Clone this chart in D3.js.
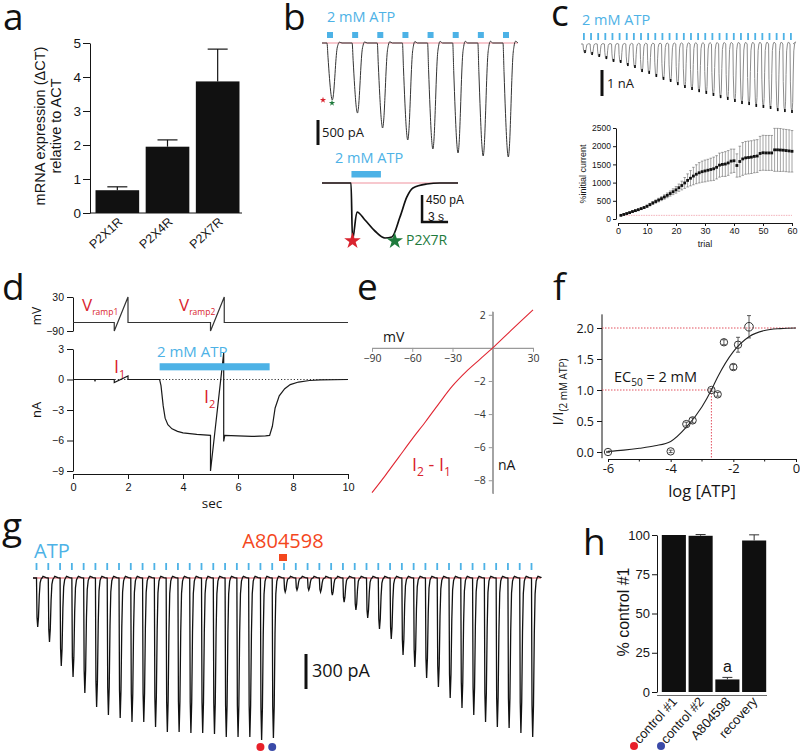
<!DOCTYPE html>
<html><head><meta charset="utf-8">
<script src="https://cdn.jsdelivr.net/npm/d3@7/dist/d3.min.js"></script>
<style>html,body{margin:0;padding:0;background:#fff}svg{display:block}</style>
</head><body>
<svg id="fig" width="800" height="751" xmlns="http://www.w3.org/2000/svg"></svg>
<script>
// ================= DATA =================
// a
const aLabels = ["P2X1R", "P2X4R", "P2X7R"];
const aValues = [0.67, 1.95, 3.87];
const aErrors = [0.10, 0.20, 0.95];
const aTicks = [0, 1, 2, 3, 4, 5];
// b (top train, peak currents in pA)
const bTrainPeaks = [1140, 1400, 1700, 1940, 2120, 2200, 2260, 2280];
// b (single response, seconds / pA)
const bSingleTime = [0, 3.35, 3.52, 4.04, 4.96, 6.11, 7.27, 8.07, 9.0, 9.8, 10.5, 12.1, 13.6, 15.7];
const bSingleCurrent = [0, 0, -950, -483, -617, -800, -917, -900, -567, -233, -83, -17, 0, 0];
// c (trace peak currents in nA, 30 applications)
const cTraceDepths = [0.35,0.42,0.5,0.58,0.69,0.73,0.85,0.92,1.08,1.15,1.27,1.38,1.46,1.58,1.69,1.77,1.85,1.92,2.0,2.08,2.15,2.23,2.31,2.35,2.42,2.46,2.5,2.58,2.62,2.65];
// c (summary, trials 1..60)
const cTrial = d3.range(1, 61);
const cMean = [100,125,150,175,205,230,255,285,315,350, 395,440,480,520,560,605,650,700,750,800,
  860,920,990,1060,1120,1180,1230,1270,1300,1320, 1340,1360,1380,1420,1480,1500,1510,1540,1590,1600,
  1470,1580,1650,1680,1690,1700,1720,1730,1800,1820, 1815,1815,1815,1900,1900,1895,1890,1880,1870,1860];
const cSem = [5,8,10,12,15,18,20,22,25,30, 35,40,45,50,55,60,65,70,80,90,
  100,120,150,180,210,240,260,280,290,300, 300,310,320,320,330,330,340,340,330,320,
  320,420,450,450,450,450,450,450,470,480, 480,480,480,590,590,590,580,580,580,570];
const cXTicks = [0, 10, 20, 30, 40, 50, 60];
const cYTicks = [0, 500, 1000, 1500, 2000, 2500];
// d
const dVoltTime = [0, 1.5, 1.5, 2.0, 2.0, 5.0, 5.0, 5.5, 5.5, 10];
const dVoltValue = [-60, -60, -90, 30, -60, -60, -90, 30, -60, -60];
const dCurTime = [0,0.78,0.8,0.82,1.5,1.5,2.0,2.0,3.15,3.2,3.28,3.35,3.45,3.6,3.8,4.0,4.5,5.0,5.0,5.48,5.48,5.52,6.0,6.5,7.0,7.15,7.25,7.35,7.5,7.7,7.9,8.2,8.6,9.0,10];
const dCurValue = [0,0,-0.12,0,0,-0.3,0.35,0,0,-0.6,-2.6,-3.8,-4.45,-4.85,-5.1,-5.25,-5.4,-5.5,-9.0,2.6,-6.1,-5.5,-5.55,-5.6,-5.55,-5.5,-4.6,-2.8,-1.6,-0.9,-0.5,-0.25,-0.1,-0.03,0];
const dATP = [3.15, 7.15];
const dTimeTicks = [0, 2, 4, 6, 8, 10];
const dNATicks = [3, 0, -3, -6, -9];
const dMVTicks = [30, -90];
// e
const eVolt = [-90,-80,-70,-60,-50,-40,-30,-20,-10,0,10,20,30];
const eCurr = [-8.75,-7.7,-6.6,-5.5,-4.45,-3.35,-2.3,-1.45,-0.72,0,0.77,1.54,2.3];
const eXTicks = [-90, -60, -30, 30];
const eYTicks = [2, -2, -4, -6, -8];
// f
const fLogATP = [-6, -4, -3.5, -3.3, -2.7, -2.5, -2.3, -2.0, -1.85, -1.5];
const fResp = [0.0, 0.01, 0.45, 0.51, 1.0, 0.93, 1.77, 1.37, 1.73, 2.02];
const fErr = [0.01, 0.02, 0.03, 0.04, 0.02, 0.03, 0.04, 0.04, 0.12, 0.18];
const fFitLog = [-6,-5.5,-5,-4.5,-4,-3.5,-3,-2.7,-2.5,-2,-1.5,-1,-0.5,0];
const fFitResp = [0.01,0.03,0.06,0.1,0.17,0.4,0.73,1.0,1.21,1.62,1.86,1.96,1.99,2.0];
const fXTicks = [-6, -4, -2, 0];
const fXMinor = [-5, -3, -1];
const fYTicks = [0, 0.5, 1.0, 1.5, 2.0];
// g (peak currents in pA, 43 ATP applications)
const gPeaks = [420,548,754,848,985,1105,1174,1200,1234,1234,1277,1320,1320,1328,1328,1337,1362,1362,1362,1388,1371,
  120,103,103,120,146,206,274,343,437,523,660,763,857,934,1028,1114,1174,1234,1277,1285,1328,1362];
const gControl1 = 19, gControl2 = 20, gDrugIndex = 21;
// h
const hLabels = ["control #1", "control #2", "A804598", "recovery"];
const hValues = [100, 99.5, 8, 96.5];
const hErrors = [0, 0.8, 1.3, 3.6];
const hTicks = [0, 25, 50, 75, 100];

// ================= STYLE =================
const BLUE = "#4db2e6", RED = "#d9232e", GREEN = "#1e7a3c", ORANGE = "#f4471d", PINK = "#f4b6be", INK = "#151515";
const SANS = "'Open Sans', 'DejaVu Sans', sans-serif";
const ARIAL = "'Liberation Sans', Arial, sans-serif";

const svg = d3.select("#fig");
svg.append("rect").attr("width", 800).attr("height", 751).attr("fill", "#fff");

function axisStyle(sel, font, size, color) {
  color = color || INK;
  sel.attr("font-family", font).attr("font-size", size);
  sel.selectAll("text").attr("fill", color === "#9a9a9a" ? "#333" : color);
  sel.selectAll("line").attr("stroke", color);
  sel.select(".domain").attr("stroke", color);
}
function txt(g, x, y, s, size, fill, font, anchor) {
  return g.append("text").attr("x", x).attr("y", y).text(s)
    .attr("font-size", size).attr("fill", fill || INK)
    .attr("font-family", font || SANS).attr("text-anchor", anchor || "start");
}
function letter(s, x, y) { txt(svg, x, y, s, 37, "#111", SANS); }

letter("a", 3, 30); letter("b", 283, 30); letter("c", 551, 26);
letter("d", 2, 300); letter("e", 357, 300); letter("f", 553, 300);
letter("g", 2, 539); letter("h", 583, 555);

// ================= PANEL A =================
{
  const g = svg.append("g");
  const y = d3.scaleLinear().domain([0, 5]).range([213, 43]);
  const x = d3.scaleBand().domain(aLabels).range([93, 242]).paddingInner(0.13).paddingOuter(0.05);
  g.append("g").attr("transform", "translate(90,0)")
    .call(d3.axisLeft(y).tickValues(aTicks).tickSize(7).tickSizeOuter(0).tickPadding(2).tickFormat(d3.format("d")))
    .call(axisStyle, ARIAL, 13.5);
  g.append("line").attr("x1", 90).attr("x2", x.range()[1]).attr("y1", y(0)).attr("y2", y(0)).attr("stroke", INK);
  g.selectAll("rect.bar").data(aLabels).join("rect").attr("class", "bar")
    .attr("x", d => x(d)).attr("width", x.bandwidth())
    .attr("y", (d, i) => y(aValues[i])).attr("height", (d, i) => y(0) - y(aValues[i])).attr("fill", "#111");
  aLabels.forEach((d, i) => {
    const cx = x(d) + x.bandwidth() / 2, top = y(aValues[i] + aErrors[i]);
    g.append("line").attr("x1", cx).attr("x2", cx).attr("y1", y(aValues[i])).attr("y2", top).attr("stroke", INK).attr("stroke-width", 1.2);
    g.append("line").attr("x1", cx - 10).attr("x2", cx + 10).attr("y1", top).attr("y2", top).attr("stroke", INK).attr("stroke-width", 1.2);
    g.append("text").attr("transform", `translate(${cx + 6},${y(0) + 10}) rotate(-42)`)
      .attr("text-anchor", "end").attr("font-family", ARIAL).attr("font-size", 12.5).attr("fill", INK).text(d);
  });
  g.append("text").attr("transform", "translate(45,126) rotate(-90)").attr("text-anchor", "middle")
    .attr("font-family", ARIAL).attr("font-size", 14.5).attr("fill", INK).text("mRNA expression (\u0394CT)");
  g.append("text").attr("transform", "translate(61,126) rotate(-90)").attr("text-anchor", "middle")
    .attr("font-family", ARIAL).attr("font-size", 14.5).attr("fill", INK).text("relative to ACT");
}

// ================= PANEL B =================
{
  const g = svg.append("g");
  // top train
  const tx = d3.scaleLinear().domain([0, 7]).range([327, 503]);
  const ty = d3.scaleLinear().domain([0, -500]).range([43, 68]);
  txt(g, 327, 22, "2 mM ATP", 14.5, BLUE);
  g.selectAll("rect.pulse").data(bTrainPeaks).join("rect").attr("class", "pulse")
    .attr("x", (d, i) => tx(i)).attr("y", 32).attr("width", 6).attr("height", 6).attr("fill", BLUE);
  g.append("line").attr("x1", 322).attr("x2", 518).attr("y1", ty(0)).attr("y2", ty(0)).attr("stroke", PINK).attr("stroke-width", 1.5);
  const shape = [[0,0],[1,0.25],[2.5,0.62],[4,0.9],[5.3,1],[6.6,0.88],[7.8,0.6],[8.8,0.33],[9.8,0.13],[11,0.03],[12.5,-0.015],[15,0]];
  const pts = [[322, ty(0)]];
  bTrainPeaks.forEach((p, i) => shape.forEach(([dx, f]) => pts.push([tx(i) + dx, ty(-p * f)])));
  pts.push([518, ty(0)]);
  g.append("path").attr("d", d3.line().curve(d3.curveMonotoneX)(pts)).attr("fill", "none").attr("stroke", "#333").attr("stroke-width", 1);
  g.append("path").attr("d", d3.symbol(d3.symbolStar, 12)()).attr("transform", `translate(323,${ty(-bTrainPeaks[0]) })`).attr("fill", RED);
  g.append("path").attr("d", d3.symbol(d3.symbolStar, 12)()).attr("transform", `translate(332,${ty(-bTrainPeaks[0]) + 3})`).attr("fill", GREEN);
  g.append("rect").attr("x", 316.5).attr("y", ty(0) + 77).attr("width", 3).attr("height", ty(-500) - ty(0)).attr("fill", "#111");
  txt(g, 322, 137, "500 pA", 13, INK);

  // single response
  const sx = d3.scaleLinear().domain([0, 15.7]).range([322, 458]);
  const sy = d3.scaleLinear().domain([0, -450]).range([183, 210]);
  txt(g, 335, 163, "2 mM ATP", 14.5, BLUE);
  g.append("rect").attr("x", sx(3.4)).attr("y", 171).attr("width", sx(6.8) - sx(3.4)).attr("height", 6.5).attr("fill", BLUE);
  g.append("line").attr("x1", sx(0)).attr("x2", sx(15.7)).attr("y1", sy(0)).attr("y2", sy(0)).attr("stroke", PINK).attr("stroke-width", 1.5);
  const sp = bSingleTime.map((t, i) => [sx(t), sy(bSingleCurrent[i])]);
  g.append("path").attr("d", d3.line().curve(d3.curveMonotoneX)(sp)).attr("fill", "none").attr("stroke", "#111").attr("stroke-width", 1.7);
  g.append("path").attr("d", d3.symbol(d3.symbolStar, 85)()).attr("transform", `translate(${sx(3.52)},${sy(-950) + 1})`).attr("fill", RED);
  g.append("path").attr("d", d3.symbol(d3.symbolStar, 85)()).attr("transform", `translate(${sx(8.4)},${sy(-950) + 1})`).attr("fill", GREEN);
  txt(g, 406, 245, "P2X7R", 14, GREEN);
  // L scale bar
  g.append("path").attr("d", `M${sx(11.55)},${sy(-200)}V${sy(-650)}H${sx(11.55) + 26}`)
    .attr("fill", "none").attr("stroke", "#111").attr("stroke-width", 2.5);
  txt(g, 426, 203.5, "450 pA", 12, INK, ARIAL);
  txt(g, 428, 220.5, "3 s", 12, INK, ARIAL);
}

// ================= PANEL C =================
{
  const g = svg.append("g");
  txt(g, 582, 25, "2 mM ATP", 14.5, BLUE);
  const tx = d3.scaleLinear().domain([0, 29]).range([583, 790]);
  const ty = d3.scaleLinear().domain([0, -1]).range([44, 70]);
  g.selectAll("rect.tick").data(cTraceDepths).join("rect").attr("class", "tick")
    .attr("x", (d, i) => tx(i)).attr("y", 33).attr("width", 1.8).attr("height", 7).attr("fill", BLUE);
  const shape = [[0,0],[0.4,0.55],[1.1,0.92],[2,1],[2.7,0.85],[3.2,0.45],[3.8,0.1],[4.6,0],[5.6,-0.03]];
  const pts = [[581, ty(0)]];
  cTraceDepths.forEach((p, i) => shape.forEach(([dx, f]) => pts.push([tx(i) + dx, ty(-p * f)])));
  pts.push([793, ty(0)]);
  g.append("path").attr("d", d3.line()(pts)).attr("fill", "none").attr("stroke", "#8c8c8c").attr("stroke-width", 1);
  g.selectAll("line.tip").data(cTraceDepths).join("line").attr("class", "tip")
    .attr("x1", (d, i) => tx(i) + 2).attr("x2", (d, i) => tx(i) + 2)
    .attr("y1", d => ty(-d) - 3).attr("y2", d => ty(-d)).attr("stroke", "#111").attr("stroke-width", 1.6);
  g.append("rect").attr("x", 600.5).attr("y", 70).attr("width", 3).attr("height", 26).attr("fill", "#111");
  txt(g, 607, 88, "1 nA", 13, INK);

  // summary
  const x = d3.scaleLinear().domain([0, 60]).range([618, 792]);
  const y = d3.scaleLinear().domain([0, 2500]).range([219, 128]);
  g.append("g").attr("transform", "translate(616,0)")
    .call(d3.axisLeft(y).tickValues(cYTicks).tickSize(3).tickSizeOuter(0).tickPadding(2).tickFormat(d3.format("d")))
    .call(axisStyle, ARIAL, 8.5);
  g.append("g").attr("transform", "translate(0,223)")
    .call(d3.axisBottom(x).tickValues(cXTicks).tickSize(3).tickSizeOuter(0).tickPadding(2).tickFormat(d3.format("d")))
    .call(axisStyle, ARIAL, 9);
  g.append("line").attr("x1", x(1)).attr("x2", x(60)).attr("y1", y(100)).attr("y2", y(100))
    .attr("stroke", "#f0a0aa").attr("stroke-width", 0.8).attr("stroke-dasharray", "1.5,1");
  cTrial.forEach((t, i) => {
    const cx = x(t), lo = y(cMean[i] - cSem[i]), hi = y(cMean[i] + cSem[i]);
    g.append("line").attr("x1", cx).attr("x2", cx).attr("y1", lo).attr("y2", hi).attr("stroke", "#666").attr("stroke-width", 0.6);
    g.append("line").attr("x1", cx - 1.3).attr("x2", cx + 1.3).attr("y1", lo).attr("y2", lo).attr("stroke", "#666").attr("stroke-width", 0.6);
    g.append("line").attr("x1", cx - 1.3).attr("x2", cx + 1.3).attr("y1", hi).attr("y2", hi).attr("stroke", "#666").attr("stroke-width", 0.6);
  });
  g.selectAll("rect.pt").data(cMean).join("rect").attr("class", "pt")
    .attr("x", (d, i) => x(cTrial[i]) - 1.4).attr("y", d => y(d) - 1.4).attr("width", 2.8).attr("height", 2.8).attr("fill", "#111");
  g.append("text").attr("transform", "translate(586,174) rotate(-90)").attr("text-anchor", "middle")
    .attr("font-family", ARIAL).attr("font-size", 9).attr("fill", INK).text("%initial current");
  txt(g, 705, 247, "trial", 9, INK, ARIAL, "middle");
}

// ================= PANEL D =================
{
  const g = svg.append("g");
  const x = d3.scaleLinear().domain([0, 10]).range([73, 348]);
  const mv = d3.scaleLinear().domain([-90, 30]).range([331, 297]);
  const na = d3.scaleLinear().domain([-9, 3]).range([471, 349]);
  g.append("g").attr("transform", "translate(73,0)")
    .call(d3.axisLeft(mv).tickValues(dMVTicks).tickSize(6).tickSizeOuter(0).tickPadding(3)).call(axisStyle, ARIAL, 10.5);
  g.append("g").attr("transform", "translate(73,0)")
    .call(d3.axisLeft(na).tickValues(dNATicks).tickSize(6).tickSizeOuter(0).tickPadding(3)).call(axisStyle, ARIAL, 10.5);
  g.append("g").attr("transform", "translate(0,474)")
    .call(d3.axisBottom(x).tickValues(dTimeTicks).tickSize(5).tickSizeOuter(0).tickPadding(4)).call(axisStyle, ARIAL, 11);
  txt(g, 212, 508, "sec", 13.5, INK, SANS, "middle");
  g.append("text").attr("transform", "translate(41,316) rotate(-90)").attr("text-anchor", "middle")
    .attr("font-family", SANS).attr("font-size", 12).attr("fill", INK).text("mV");
  g.append("text").attr("transform", "translate(41,410) rotate(-90)").attr("text-anchor", "middle")
    .attr("font-family", SANS).attr("font-size", 13).attr("fill", INK).text("nA");
  const vp = dVoltTime.map((t, i) => [x(t), mv(dVoltValue[i])]);
  g.append("path").attr("d", d3.line()(vp)).attr("fill", "none").attr("stroke", "#333").attr("stroke-width", 1.2);
  g.append("line").attr("x1", x(0)).attr("x2", x(10)).attr("y1", na(0)).attr("y2", na(0))
    .attr("stroke", "#333").attr("stroke-width", 1).attr("stroke-dasharray", "1.2,2");
  const cp = dCurTime.map((t, i) => [x(t), na(dCurValue[i])]);
  g.append("path").attr("d", d3.line()(cp)).attr("fill", "none").attr("stroke", "#1a1a1a").attr("stroke-width", 1.2);
  g.append("rect").attr("x", x(dATP[0])).attr("y", na(1.6)).attr("width", x(dATP[1]) - x(dATP[0])).attr("height", na(0.9) - na(1.6)).attr("fill", BLUE);
  txt(g, 157, 357, "2 mM ATP", 15, BLUE);
  const v1 = txt(g, 82, 311, "V", 17, RED); v1.append("tspan").attr("dy", 4).attr("font-size", 8.5).text("ramp1");
  const v2 = txt(g, 179, 311, "V", 17, RED); v2.append("tspan").attr("dy", 4).attr("font-size", 8.5).text("ramp2");
  const i1 = txt(g, 114, 373, "I", 18, RED); i1.append("tspan").attr("dy", 5).attr("font-size", 11).text("1");
  const i2 = txt(g, 204, 403, "I", 18, RED); i2.append("tspan").attr("dy", 5).attr("font-size", 11).text("2");
}

// ================= PANEL E =================
{
  const g = svg.append("g");
  const x = d3.scaleLinear().domain([-90, 30]).range([372, 533]);
  const y = d3.scaleLinear().domain([-8.8, 2.2]).range([493.5, 311.5]);
  const GR = "#9a9a9a";
  g.append("line").attr("x1", x(0)).attr("x2", x(0)).attr("y1", y(2.2)).attr("y2", y(-8.8)).attr("stroke", GR).attr("stroke-width", 1.2);
  g.append("g").attr("transform", `translate(0,${y(0)})`)
    .call(d3.axisBottom(x).tickValues(eXTicks).tickSize(4).tickSizeOuter(0).tickPadding(3))
    .call(axisStyle, SANS, 10.5, GR);
  g.append("g").attr("transform", `translate(${x(0)},0)`)
    .call(d3.axisLeft(y).tickValues(eYTicks).tickSize(4).tickSizeOuter(0).tickPadding(3))
    .call(axisStyle, SANS, 10.5, GR);
  g.selectAll(".domain").attr("stroke-width", 1.2);
  const lp = eVolt.map((v, i) => [x(v), y(eCurr[i])]);
  g.append("path").attr("d", d3.line().curve(d3.curveMonotoneX)(lp)).attr("fill", "none").attr("stroke", "#e02632").attr("stroke-width", 1.1);
  txt(g, 383, 342, "mV", 14, INK);
  txt(g, 498, 470, "nA", 14, INK);
  const t = txt(g, 412, 471, "I", 18, RED);
  t.append("tspan").attr("dy", 5).attr("font-size", 12).text("2");
  t.append("tspan").attr("dy", -5).text(" - I");
  t.append("tspan").attr("dy", 5).attr("font-size", 12).text("1");
}

// ================= PANEL F =================
{
  const g = svg.append("g");
  const x = d3.scaleLinear().domain([-6, 0]).range([608, 796]);
  const y = d3.scaleLinear().domain([0, 2]).range([452, 328]);
  const yAx = g.append("g").attr("transform", "translate(602,0)")
    .call(d3.axisLeft(y).tickValues(fYTicks).tickSize(5).tickSizeOuter(0).tickPadding(3).tickFormat(d3.format(".1f")))
    .call(axisStyle, SANS, 12.5);
  yAx.select(".domain").remove();
  g.append("line").attr("x1", 602).attr("x2", 602).attr("y1", y(2.22)).attr("y2", y(-0.1)).attr("stroke", INK);
  const xAx = g.append("g").attr("transform", "translate(0,459)")
    .call(d3.axisBottom(x).tickValues(fXTicks).tickSize(3).tickSizeOuter(0).tickPadding(2).tickFormat(d3.format("d")))
    .call(axisStyle, SANS, 13);
  xAx.selectAll("text").text(d => d < 0 ? "-" + Math.abs(d) : d);
  g.selectAll("line.minor").data(fXMinor).join("line").attr("class", "minor")
    .attr("x1", d => x(d)).attr("x2", d => x(d)).attr("y1", 459).attr("y2", 461.5).attr("stroke", INK);
  txt(g, 702, 497, "log [ATP]", 16.5, INK, SANS, "middle");
  const yl = g.append("text").attr("transform", "translate(563,392) rotate(-90)").attr("text-anchor", "middle")
    .attr("font-family", SANS).attr("font-size", 15).attr("fill", INK).text("I/I");
  yl.append("tspan").attr("dy", 4).attr("font-size", 10).text("(2 mM ATP)");
  const dot = "#e2505e";
  g.append("line").attr("x1", 602).attr("x2", 796).attr("y1", y(2)).attr("y2", y(2)).attr("stroke", dot).attr("stroke-dasharray", "1.5,1.5");
  g.append("line").attr("x1", 602).attr("x2", x(-2.7)).attr("y1", y(1)).attr("y2", y(1)).attr("stroke", dot).attr("stroke-dasharray", "1.5,1.5");
  g.append("line").attr("x1", x(-2.7)).attr("x2", x(-2.7)).attr("y1", y(1)).attr("y2", 459).attr("stroke", dot).attr("stroke-dasharray", "1.5,1.5");
  const fp = fFitLog.map((v, i) => [x(v), y(fFitResp[i])]);
  g.append("path").attr("d", d3.line().curve(d3.curveMonotoneX)(fp)).attr("fill", "none").attr("stroke", "#222").attr("stroke-width", 1.1);
  fLogATP.forEach((v, i) => {
    const cx = x(v), lo = y(fResp[i] - fErr[i]), hi = y(fResp[i] + fErr[i]);
    g.append("line").attr("x1", cx).attr("x2", cx).attr("y1", lo).attr("y2", hi).attr("stroke", "#333").attr("stroke-width", 0.8);
    g.append("line").attr("x1", cx - 2).attr("x2", cx + 2).attr("y1", lo).attr("y2", lo).attr("stroke", "#333").attr("stroke-width", 0.8);
    g.append("line").attr("x1", cx - 2).attr("x2", cx + 2).attr("y1", hi).attr("y2", hi).attr("stroke", "#333").attr("stroke-width", 0.8);
  });
  g.selectAll("circle.pt").data(fResp).join("circle").attr("class", "pt")
    .attr("cx", (d, i) => x(fLogATP[i])).attr("cy", d => y(d)).attr("r", (d, i) => i === 9 ? 4.3 : 3.7)
    .attr("fill", "none").attr("stroke", "#333").attr("stroke-width", 1);
  const ec = txt(g, 614, 382, "EC", 14.5, INK);
  ec.append("tspan").attr("dy", 4).attr("font-size", 10).text("50");
  ec.append("tspan").attr("dy", -4).text(" = 2 mM");
}

// ================= PANEL G =================
{
  const g = svg.append("g");
  const x = d3.scaleLinear().domain([0, 42]).range([36.5, 531.5]);
  const y = d3.scaleLinear().domain([0, -300]).range([578, 613]);
  txt(g, 34, 558, "ATP", 20, BLUE);
  txt(g, x(gDrugIndex) - 1, 548, "A804598", 20, ORANGE, SANS, "middle");
  g.append("rect").attr("x", x(gDrugIndex) - 5).attr("y", 554).attr("width", 8).attr("height", 7).attr("fill", ORANGE);
  g.selectAll("rect.tick").data(gPeaks).join("rect").attr("class", "tick")
    .attr("x", (d, i) => x(i) - 0.9).attr("y", 563).attr("width", 1.8).attr("height", 7).attr("fill", BLUE);
  g.append("line").attr("x1", 33).attr("x2", 541).attr("y1", y(0)).attr("y2", y(0)).attr("stroke", "#e0505a").attr("stroke-width", 1.2);
  const shape = [[0,0],[0.5,0.8],[1.2,1],[2,0.8],[2.8,0.35],[3.6,0.1],[4.6,0.02],[5.5,0]];
  const pts = [[33, y(0)]];
  gPeaks.forEach((p, i) => {
    shape.forEach(([dx, f]) => pts.push([x(i) + dx, y(-p * f)]));
    pts.push([x(i) + 6.5, y(14)]); pts.push([x(i) + 9.5, y(4)]);
  });
  pts.push([541, y(0)]);
  g.append("path").attr("d", d3.line()(pts)).attr("fill", "none").attr("stroke", "#111").attr("stroke-width", 1.3);
  g.append("rect").attr("x", 304.5).attr("y", 654).attr("width", 3).attr("height", y(-300) - y(0)).attr("fill", "#111");
  txt(g, 312, 677, "300 pA", 18, INK);
  g.append("circle").attr("cx", x(gControl1)).attr("cy", 747).attr("r", 4).attr("fill", "#e8202a");
  g.append("circle").attr("cx", x(gControl2)).attr("cy", 747).attr("r", 4).attr("fill", "#3a4aa8");
}

// ================= PANEL H =================
{
  const g = svg.append("g");
  const y = d3.scaleLinear().domain([0, 100]).range([692, 535]);
  const x = d3.scaleBand().domain(hLabels).range([661, 767]).paddingInner(0.1).paddingOuter(0.03);
  g.append("g").attr("transform", "translate(657,0)")
    .call(d3.axisLeft(y).tickValues(hTicks).tickSize(5).tickSizeOuter(0).tickPadding(2))
    .call(axisStyle, ARIAL, 13);
  g.append("line").attr("x1", 657).attr("x2", 767).attr("y1", 695.5).attr("y2", 695.5).attr("stroke", "#444").attr("stroke-width", 0.8);
  g.selectAll("rect.bar").data(hLabels).join("rect").attr("class", "bar")
    .attr("x", d => x(d)).attr("width", x.bandwidth())
    .attr("y", (d, i) => y(hValues[i])).attr("height", (d, i) => y(0) - y(hValues[i])).attr("fill", "#0f0f0f");
  hLabels.forEach((d, i) => {
    const cx = x(d) + x.bandwidth() / 2;
    if (hErrors[i] > 0) {
      const top = y(hValues[i] + hErrors[i]);
      g.append("line").attr("x1", cx).attr("x2", cx).attr("y1", y(hValues[i])).attr("y2", top).attr("stroke", "#333");
      g.append("line").attr("x1", cx - 5).attr("x2", cx + 5).attr("y1", top).attr("y2", top).attr("stroke", "#333");
    }
    g.append("text").attr("transform", `translate(${cx + 4},${702}) rotate(-48)`)
      .attr("text-anchor", "end").attr("font-family", ARIAL).attr("font-size", 13).attr("fill", INK).text(d);
  });
  txt(g, x(hLabels[2]) + x.bandwidth() / 2, 672, "a", 16, INK, ARIAL, "middle");
  g.append("text").attr("transform", "translate(629,612) rotate(-90)").attr("text-anchor", "middle")
    .attr("font-family", ARIAL).attr("font-size", 16).attr("fill", INK).text("% control #1");
  g.append("circle").attr("cx", 634).attr("cy", 746).attr("r", 4).attr("fill", "#e8202a");
  g.append("circle").attr("cx", 661).attr("cy", 746).attr("r", 4).attr("fill", "#3a4aa8");
}
</script>
</body></html>
